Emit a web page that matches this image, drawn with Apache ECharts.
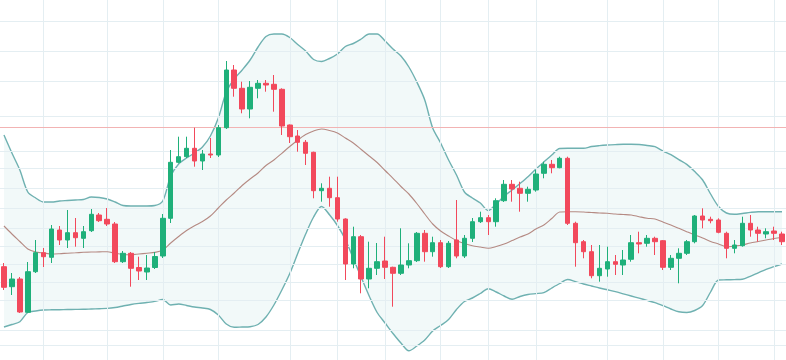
<!DOCTYPE html>
<html>
<head>
<meta charset="utf-8">
<script src="https://cdn.jsdelivr.net/npm/echarts@6/dist/echarts.min.js"></script>
<style>
html,body{margin:0;padding:0;background:#ffffff;}
#chart{width:786px;height:360px;}
</style>
</head>
<body>
<div id="chart"></div>
<script>
// candles: [open, close, low, high]
var candles = [
[93.3,72.7,70,97],[73.3,81,65,87],[81,48,47,83],[47.7,88.3,47,98],[88.3,107.3,87,120],
[107.3,103.3,93,112],[102.7,131,97,135],[130,120,115,134],[120,127.3,112,150],[127.3,122.3,113.3,142],
[121.7,128.3,112,134],[129.3,145.7,128,151],[145,139.3,138,147],[140.7,136,134,152],[136,98.3,97,138],
[98.3,106.7,97,109],[106.7,91.7,73.3,108],[92.5,89,80,103.3],[88,92,80,105],[92.5,103.5,91,108],
[104,141.7,102,146],[141.7,197.7,137,210],[197.7,203.3,196.7,223.3],[203.3,211.7,202,223.3],[211.7,199,193.3,232.3],
[199,206,190,210],[206,205,202,222],[205,232.3,203,235],[232.3,290,231,299],[290,271.7,263.3,295],
[271.7,251,246.7,278.3],[251,272.7,241.7,279],[271.7,276.7,261.7,280],[276.7,275,268.3,280],[275.7,270.7,248.3,285],
[270.7,234,225,271.7],[235,223.3,217,235.5],[224,217.7,208.3,230],[217.7,206.7,195,220],[207.7,169.3,161.7,208.3],
[169.3,171.7,158.3,176.7],[171.7,162.3,153.3,183.3],[162.3,141,138.3,183.3],[141,96,80,141.7],[96,123.3,91.7,133.3],
[123.3,81,66.7,125],[81,91.7,71.7,118.3],[91.7,98.3,85,117],[99,92.7,81,123.3],[92.7,86.7,53.3,93.3],
[86.7,95,85,131.7],[95,99.3,91.7,116.7],[99.3,126.7,98,128],[126.7,108.3,98.3,130],[108.3,117.3,103.3,123.3],
[117.3,93.3,92,120],[93.3,116.7,92,119],[120,104,101.7,160],[104,121.7,102,125],[121.7,138.3,118,142],
[138.3,142.3,137,148.3],[142.3,138.3,125,145],[138.3,159.3,133.3,161.7],[159.3,175.7,158,180],[175.7,171,158.3,180],
[171.7,166.7,148.3,178.3],[166.7,170.7,158.3,173.3],[170,186,168.3,190],[186.7,195.7,181.7,198.3],[195.7,192.3,186.7,200],
[192.3,201.7,191.7,203.3],[201.7,136.7,135,203.3],[136.7,117.3,93.3,138.3],[118.3,108.3,101.7,120],[108.3,84.3,81.7,115],
[84.3,91.7,78.3,115],[91,98.3,83.3,113.3],[98.3,95.7,85,105],[95,100,85,110],[100.7,117.3,98.3,125],
[117.3,116,106.7,128.3],[116.7,121.7,113.3,125],[121.7,118.3,105,123.3],[119.3,92.7,90,120],[92.7,101.7,90,105],
[101.7,106.7,76.7,111.7],[106.7,118.3,105,120],[118.3,144,116.7,145],[144,140,131.7,151.7],[140.7,139.3,136.7,143.3],
[140,127.7,126.7,141.7],[126.7,111.7,101.7,128.3],[111.7,115,106.7,120],[114.3,136.7,113.3,143.3],[136.7,130,123.3,145],
[130,126.7,118.3,133.3],[126,128.3,121.7,131.7],[129,126.7,120,133.3],[126,118.3,115,128.3]
];
var upperBand = [225,207,190,168,162,158,158,159,159.5,160,160.5,163,162.5,161,158,154.5,154,154,154,154.5,
159,184,196,202,207,213,224,242,268,281,290,300,313,323.5,326,326,322.5,315.5,309,300.5,
298.5,301.5,306,313.5,316.5,321,326,326,319,311,304,293,278,260,232,217,200,185,168,162,
157,149.5,156,164,170,176.5,183.3,191,198,205,211.5,211.7,211.7,211.7,213.5,214.4,215,215.4,215.7,215.7,
215.5,214.5,213.3,209,205.3,200.4,195.6,188.4,180,166,153.5,147,145.7,146.5,147.6,148.3,148.3,148.3,148.3];
var middleBand = [134,126,118.5,111,108,107,106,106.3,106.8,107.2,107.7,108,108.1,108.3,106.7,105.5,105.2,106,106.8,107.6,
110,117,123.5,129.5,134.3,138.5,144,152,160,167,174.5,181,187,194.5,200,206.7,213.5,220,225.5,229,
231,229.5,227,222,217,210.5,204,197.5,189.5,181.7,173.5,166,156.5,146,136,129,124,119.5,116.5,114.3,
113,111.8,113.5,116,119.5,123,126,131,135,141.5,148,148.3,148.3,148,147.5,147,146.7,146,145.5,145,
143.3,141.7,141,138,135,131.7,128.3,125,122,118.5,116,113.3,114,115,117,118.5,120,121.5,122.5];
var lowerBand = [33,35.5,38.3,47.5,49,50,50.2,50.3,50.5,50.6,50.7,51,51.3,51.6,52.5,54,55.5,56.6,57.5,58.6,
60.5,55,56,54.5,53,52,50.5,45,36,32.7,33,33.3,35.5,43,55,70,86.5,106.5,126,143,
153.5,145.3,134.5,120.5,101.5,82.5,64,47.5,37,26.5,17,9.2,14,20,29,34.5,40.5,50.5,58.5,62,
66.5,71.3,68,64,60.7,63.5,65.5,66.4,67.3,72,76.5,80.5,78.3,76,74,72,70.2,68.4,66.2,64,
61.8,59.6,57.3,54.3,51,48.2,47.5,49.5,54.5,68,80,80.2,80.4,80.7,83.7,87.2,90.7,93.3,96];
// vertical grid lines sit on these candle indices; horizontal grid lines at these values
var gridXIndex = [5,13,20,27,36,42,48,55,61,67,76,83,90,97];
var gridYValues = [339,309,279,244,209,192,172,152,132,114,96,78,60,30,15];
var referenceLevel = 232.3;

var categories = candles.map(function(_, i){ return String(i + 1); });
var bandWidth = upperBand.map(function(u, i){ return +(u - lowerBand[i]).toFixed(2); });

var chart = echarts.init(document.getElementById('chart'), null, {renderer:'canvas'});
var gridLineStyle = {color:'#e4eef2', width:1, type:'solid'};
var markData = gridXIndex.map(function(i){ return {xAxis: i}; })
  .concat(gridYValues.map(function(v){ return {yAxis: v}; }));

chart.setOption({
  animation:false,
  backgroundColor:'#ffffff',
  grid:{left:0,right:0,top:0,bottom:0},
  xAxis:{type:'category',data:categories,boundaryGap:true,show:false},
  yAxis:{type:'value',min:0,max:360,show:false,splitLine:{show:false}},
  series:[
    {
      name:'base',type:'line',data:lowerBand,stack:'band',symbol:'none',silent:true,
      lineStyle:{opacity:0},z:1,
      markLine:{silent:true,symbol:['none','none'],label:{show:false},animation:false,
        lineStyle:gridLineStyle,data:markData}
    },
    {
      name:'fill',type:'line',data:bandWidth,stack:'band',symbol:'none',silent:true,smooth:0.3,
      lineStyle:{opacity:0},areaStyle:{color:'rgba(110,185,180,0.12)'},z:2
    },
    {
      name:'ref',type:'line',data:[],z:3,
      markLine:{silent:true,symbol:['none','none'],label:{show:false},animation:false,
        lineStyle:{color:'#f2b3b3',width:1,type:'solid'},data:[{yAxis:referenceLevel}]}
    },
    {name:'upper',type:'line',data:upperBand,symbol:'none',smooth:0.3,lineStyle:{color:'#6fb1b1',width:1.4},z:4},
    {name:'lower',type:'line',data:lowerBand,symbol:'none',smooth:0.3,lineStyle:{color:'#6fb1b1',width:1.4},z:4},
    {name:'middle',type:'line',data:middleBand,symbol:'none',smooth:0.3,lineStyle:{color:'#b58a83',width:1.1},z:5},
    {
      name:'price',type:'candlestick',data:candles,barWidth:5,z:6,
      itemStyle:{color:'#1fb07a',color0:'#f2495c',borderColor:'#1fb07a',borderColor0:'#f2495c',borderWidth:1}
    }
  ]
});
</script>
</body>
</html>
